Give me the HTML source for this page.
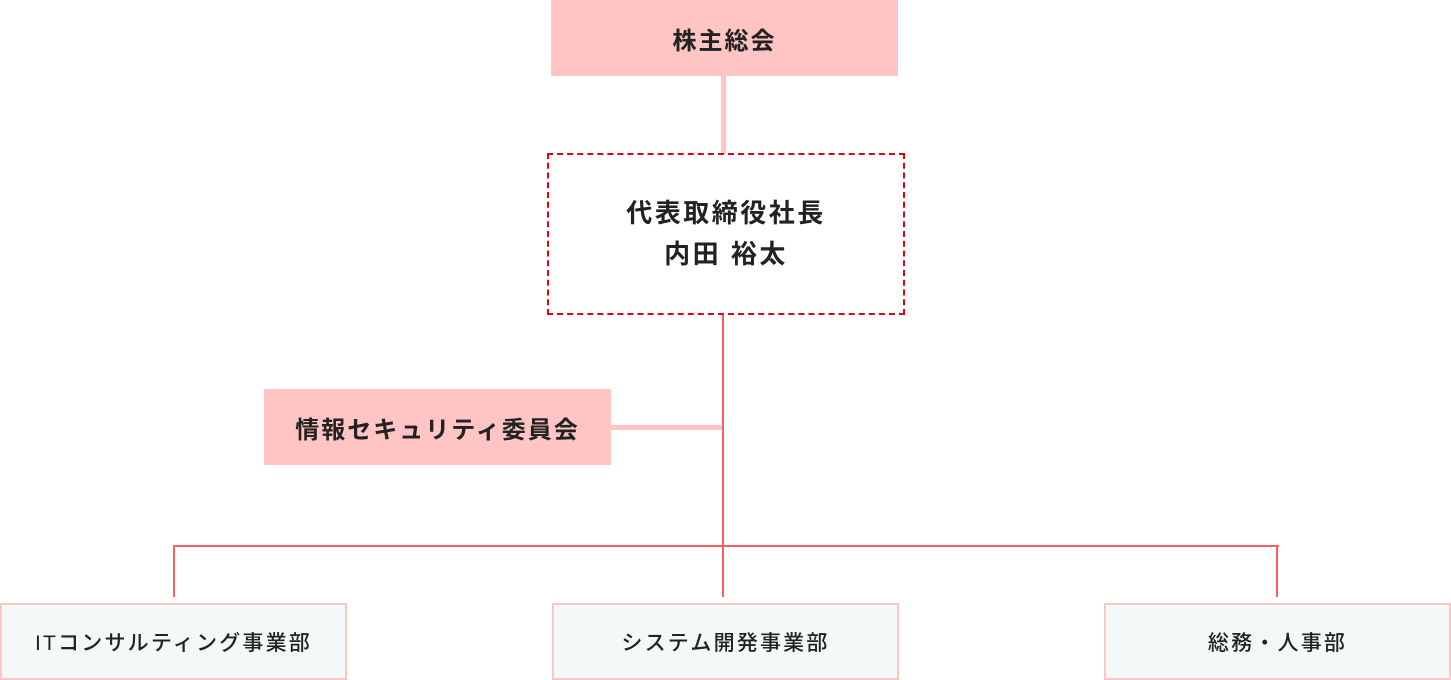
<!DOCTYPE html>
<html><head><meta charset="utf-8"><style>
body{margin:0;width:1451px;height:680px;background:#fff;position:relative;overflow:hidden;font-family:"Liberation Sans","Noto Sans CJK JP",sans-serif;color:#222}
div{position:absolute;box-sizing:border-box}
.pk{background:#ffc4c4;display:flex;align-items:center;justify-content:center;font-weight:bold;font-size:24px;letter-spacing:2px}
.bt{background:#f3f9f9;border:2px solid #ffc4c4;display:flex;align-items:center;justify-content:center;font-size:21px;letter-spacing:2.2px;font-weight:500}
.r{background:#f76060}
</style></head><body>
<div class="pk" style="left:551px;top:0;width:347px;height:76px">株主総会</div>
<div style="left:721px;top:76px;width:5px;height:78px;background:#ffc4c4"></div>
<div style="left:547px;top:153px;width:358px;height:162px;border:2px dashed #e60012;display:flex;align-items:center;justify-content:center;text-align:center;font-weight:bold;font-size:26px;line-height:41px;letter-spacing:2.5px">代表取締役社長<br>内田 裕太</div>
<div class="r" style="left:722px;top:315px;width:2px;height:282px"></div>
<div class="pk" style="left:264px;top:389px;width:347px;height:76px">情報セキュリティ委員会</div>
<div style="left:611px;top:425px;width:111px;height:5px;background:#ffc4c4"></div>
<div class="r" style="left:173px;top:545px;width:1106px;height:2px"></div>
<div class="r" style="left:173px;top:545px;width:2px;height:52px"></div>
<div class="r" style="left:1276px;top:545px;width:2px;height:52px"></div>
<div class="bt" style="left:0;top:603px;width:347px;height:77px">ITコンサルティング事業部</div>
<div class="bt" style="left:552px;top:603px;width:347px;height:77px">システム開発事業部</div>
<div class="bt" style="left:1104px;top:603px;width:347px;height:77px">総務・人事部</div>
</body></html>
